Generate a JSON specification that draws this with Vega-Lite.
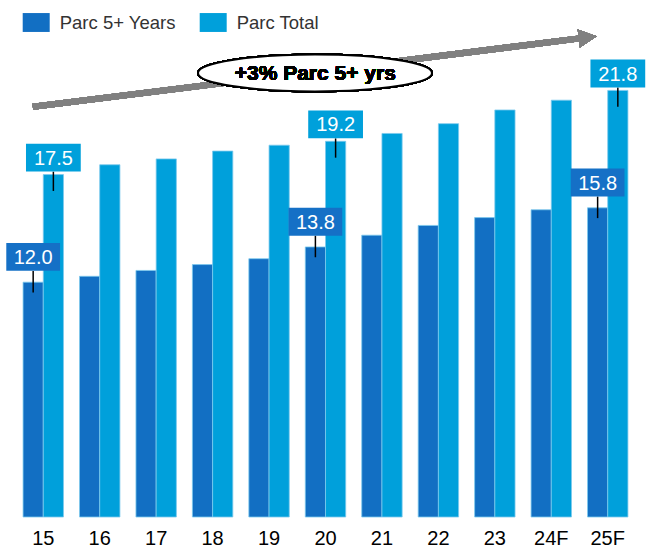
{
  "$schema": "https://vega.github.io/schema/vega-lite/v6.json",
  "width": 641,
  "height": 499,
  "autosize": {"type": "none"},
  "padding": {"left": 5, "top": 18, "right": 0, "bottom": 32},
  "config": {"view": {"stroke": null}, "font": "Liberation Sans"},
  "data": {
    "values": [
      {"year": "15", "series": "Parc 5+ Years", "value": 12.0},
      {"year": "16", "series": "Parc 5+ Years", "value": 12.3},
      {"year": "17", "series": "Parc 5+ Years", "value": 12.6},
      {"year": "18", "series": "Parc 5+ Years", "value": 12.9},
      {"year": "19", "series": "Parc 5+ Years", "value": 13.2},
      {"year": "20", "series": "Parc 5+ Years", "value": 13.8},
      {"year": "21", "series": "Parc 5+ Years", "value": 14.4},
      {"year": "22", "series": "Parc 5+ Years", "value": 14.9},
      {"year": "23", "series": "Parc 5+ Years", "value": 15.3},
      {"year": "24F", "series": "Parc 5+ Years", "value": 15.7},
      {"year": "25F", "series": "Parc 5+ Years", "value": 15.8},
      {"year": "15", "series": "Parc Total", "value": 17.5},
      {"year": "16", "series": "Parc Total", "value": 18.0},
      {"year": "17", "series": "Parc Total", "value": 18.3},
      {"year": "18", "series": "Parc Total", "value": 18.7},
      {"year": "19", "series": "Parc Total", "value": 19.0},
      {"year": "20", "series": "Parc Total", "value": 19.2},
      {"year": "21", "series": "Parc Total", "value": 19.6},
      {"year": "22", "series": "Parc Total", "value": 20.1},
      {"year": "23", "series": "Parc Total", "value": 20.8},
      {"year": "24F", "series": "Parc Total", "value": 21.3},
      {"year": "25F", "series": "Parc Total", "value": 21.8}
    ]
  },
  "layer": [
    {
      "mark": {"type": "bar", "stroke": "#7cc9ee", "strokeWidth": 0.8},
      "encoding": {
        "x": {
          "field": "year", "type": "nominal",
          "scale": {"domain": ["15","16","17","18","19","20","21","22","23","24F","25F"], "paddingInner": 0.284, "paddingOuter": 0.32},
          "axis": {"title": null, "ticks": false, "domain": false, "labelFontSize": 20, "labelColor": "#000000", "labelPadding": 11, "labelAngle": 0, "labelFont": "Liberation Sans"}
        },
        "xOffset": {"field": "series", "type": "nominal", "scale": {"domain": ["Parc 5+ Years", "Parc Total"], "paddingInner": 0}},
        "y": {"field": "value", "type": "quantitative", "scale": {"domain": [0, 25.5], "nice": false, "zero": true}, "axis": null},
        "color": {
          "field": "series", "type": "nominal",
          "scale": {"domain": ["Parc 5+ Years", "Parc Total"], "range": ["#126FC3", "#00A0DB"]},
          "legend": {"title": null, "orient": "none", "legendX": 17.7, "legendY": -9, "direction": "horizontal", "symbolType": "M-1,-0.7L1,-0.7L1,0.7L-1,0.7Z", "symbolSize": 729, "symbolStrokeWidth": 0, "labelFontSize": 18.5, "labelColor": "#333333", "labelFont": "Liberation Sans", "labelOffset": 10, "columnPadding": 23, "padding": 0}
        }
      }
    },
    {
      "mark": {"type": "rule", "color": "#808080", "strokeWidth": 6, "strokeCap": "butt", "xOffset": -10.4, "x2Offset": -20},
      "encoding": {
        "x": {"datum": "15"},
        "x2": {"datum": "25F"},
        "y": {"datum": 20.96},
        "y2": {"datum": 24.51}
      }
    },
    {
      "mark": {"type": "point", "shape": "M-1,-1L1,0L-1,1Z", "size": 324, "filled": true, "fill": "#808080", "opacity": 1, "strokeWidth": 0, "angle": -7.1, "xOffset": -20},
      "encoding": {
        "x": {"datum": "25F"},
        "y": {"datum": 24.51}
      }
    },
    {
      "mark": {"type": "point", "shape": "M-1,0A1,0.158,0,1,0,1,0A1,0.158,0,1,0,-1,0Z", "size": 54756, "filled": true, "fill": "#ffffff", "stroke": "#000000", "strokeWidth": 2, "opacity": 1, "xOffset": -10.5},
      "encoding": {
        "x": {"datum": "20"},
        "y": {"datum": 22.69}
      }
    },
    {
      "mark": {"type": "text", "text": "+3% Parc 5+ yrs", "fontSize": 21, "fontWeight": "bold", "font": "Liberation Sans", "fill": "#000000", "strokeWidth": 0, "opacity": 1, "align": "center", "baseline": "middle", "xOffset": -10.2, "yOffset": 1},
      "encoding": {
        "x": {"datum": "20"},
        "y": {"datum": 22.69}
      }
    },
    {
      "transform": [{"filter": "datum.series == 'Parc 5+ Years' && (datum.year == '15' || datum.year == '20' || datum.year == '25F')"}],
      "mark": {"type": "rule", "color": "#000000", "strokeWidth": 1.5, "xOffset": -2, "yOffset": -11.3, "y2Offset": 10.3},
      "encoding": {
        "x": {"field": "year", "type": "nominal"},
        "xOffset": {"field": "series", "type": "nominal"},
        "y": {"field": "value", "type": "quantitative"},
        "y2": {"field": "value"}
      }
    },
    {
      "transform": [{"filter": "datum.series == 'Parc Total' && (datum.year == '15' || datum.year == '20' || datum.year == '25F')"}],
      "mark": {"type": "rule", "color": "#000000", "strokeWidth": 1.5, "xOffset": 0, "yOffset": -2.9, "y2Offset": 16.4},
      "encoding": {
        "x": {"field": "year", "type": "nominal"},
        "xOffset": {"field": "series", "type": "nominal"},
        "y": {"field": "value", "type": "quantitative"},
        "y2": {"field": "value"}
      }
    },
    {
      "transform": [{"filter": "datum.series == 'Parc 5+ Years' && (datum.year == '15' || datum.year == '20' || datum.year == '25F')"}],
      "mark": {"type": "point", "shape": "M-1,-0.52L1,-0.52L1,0.52L-1,0.52Z", "size": 2890, "filled": true, "fill": "#1570C6", "opacity": 1, "strokeWidth": 0, "xOffset": -2.8, "yOffset": -25.3},
      "encoding": {
        "x": {"field": "year", "type": "nominal"},
        "xOffset": {"field": "series", "type": "nominal"},
        "y": {"field": "value", "type": "quantitative"}
      }
    },
    {
      "transform": [{"filter": "datum.series == 'Parc Total' && (datum.year == '15' || datum.year == '20' || datum.year == '25F')"}],
      "mark": {"type": "point", "shape": "M-1,-0.51L1,-0.51L1,0.51L-1,0.51Z", "size": 3000, "filled": true, "fill": "#00A0DB", "opacity": 1, "strokeWidth": 0, "xOffset": -0.4, "yOffset": -16.9},
      "encoding": {
        "x": {"field": "year", "type": "nominal"},
        "xOffset": {"field": "series", "type": "nominal"},
        "y": {"field": "value", "type": "quantitative"}
      }
    },
    {
      "transform": [{"filter": "datum.series == 'Parc 5+ Years' && (datum.year == '15' || datum.year == '20' || datum.year == '25F')"}],
      "mark": {"type": "text", "fontSize": 20, "font": "Liberation Sans", "color": "#ffffff", "align": "center", "baseline": "middle", "xOffset": -2.8, "yOffset": -24.3},
      "encoding": {
        "x": {"field": "year", "type": "nominal"},
        "xOffset": {"field": "series", "type": "nominal"},
        "y": {"field": "value", "type": "quantitative"},
        "text": {"field": "value", "type": "quantitative", "format": ".1f"}
      }
    },
    {
      "transform": [{"filter": "datum.series == 'Parc Total' && (datum.year == '15' || datum.year == '20' || datum.year == '25F')"}],
      "mark": {"type": "text", "fontSize": 20, "font": "Liberation Sans", "color": "#ffffff", "align": "center", "baseline": "middle", "xOffset": -0.4, "yOffset": -15.9},
      "encoding": {
        "x": {"field": "year", "type": "nominal"},
        "xOffset": {"field": "series", "type": "nominal"},
        "y": {"field": "value", "type": "quantitative"},
        "text": {"field": "value", "type": "quantitative", "format": ".1f"}
      }
    }
  ]
}
